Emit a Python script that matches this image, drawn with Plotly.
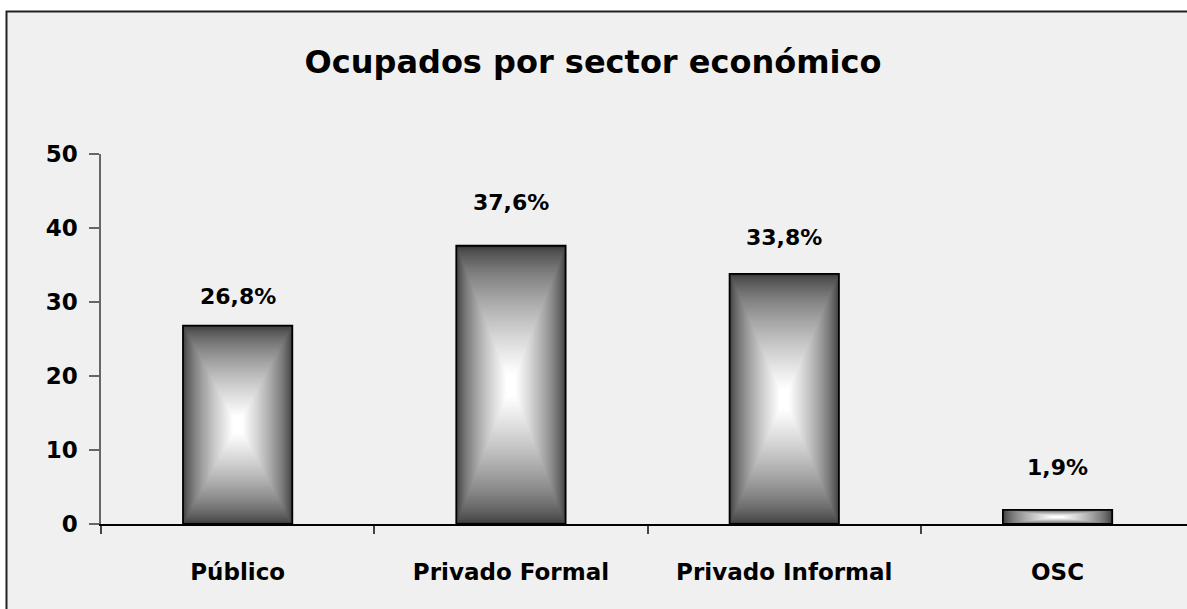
import plotly.graph_objects as go

# ─── Data ─────────────────────────────────────────────────────────────────────

CATEGORIES = ["Público", "Privado Formal", "Privado Informal", "OSC"]
VALUES = [26.8, 37.6, 33.8, 1.9]
Y_TICKS = [0, 10, 20, 30, 40, 50]

# ─── Style ────────────────────────────────────────────────────────────────────

PANEL_BG = "#f0f0f0"
EDGE_RGB = (58, 58, 58)
CENTER_RGB = (255, 255, 255)
FONT = "DejaVu Sans"
BAR_WIDTH = 0.4
STEPS = 70
LABEL_SHIFT = [15, 29, 22, 28]   # px above each bar, placed by hand in the original

W, H = 1187, 609
M_L, M_T = 101, 154
M_B = H - 524
PLOT_W = W - M_L
PLOT_H = H - M_T - M_B
CAT_PX = 273.3


def shade(t):
    # t = 0 at the bar edge, 1 at the centre
    t = min(1.0, t * 1.08) ** 0.68
    return "rgb({},{},{})".format(*[round(a + (b - a) * t) for a, b in zip(EDGE_RGB, CENTER_RGB)])


fig = go.Figure()

# rectangular "from centre" gradient built from nested bars
for k in range(STEPS):
    s = 1 - k / STEPS
    fig.add_trace(go.Bar(
        x=CATEGORIES,
        y=[v * s for v in VALUES],
        base=[v * (1 - s) / 2 for v in VALUES],
        width=BAR_WIDTH * s,
        marker=dict(color=shade(k / (STEPS - 1)), line=dict(width=0)),
        hoverinfo="skip",
    ))

# outline on top
fig.add_trace(go.Bar(
    x=CATEGORIES, y=VALUES, width=BAR_WIDTH,
    marker=dict(color="rgba(0,0,0,0)", line=dict(color="#000000", width=1.8)),
    hoverinfo="skip",
))

for cat, v, dy in zip(CATEGORIES, VALUES, LABEL_SHIFT):
    fig.add_annotation(
        x=cat, y=v, text=f"{v:.1f}%".replace(".", ","),
        showarrow=False, yanchor="bottom", yshift=dy,
        font=dict(family=FONT, size=22, color="#000000", weight="bold"),
    )

# outer chart frame (cropped at right/bottom like the reference)
fig.add_shape(
    type="rect", xref="paper", yref="paper", layer="below",
    x0=(6.5 - M_L) / PLOT_W, x1=(1240 - M_L) / PLOT_W,
    y0=(H - M_B - 680) / PLOT_H, y1=(H - M_B - 11.5) / PLOT_H,
    fillcolor=PANEL_BG, line=dict(color="#222222", width=2),
)

fig.update_layout(
    width=W, height=H,
    barmode="overlay", showlegend=False,
    paper_bgcolor="#ffffff", plot_bgcolor="rgba(0,0,0,0)",
    margin=dict(l=M_L, r=0, t=M_T, b=M_B, pad=0),
    font=dict(family=FONT, color="#000000"),
    title=dict(
        text="<b>Ocupados por sector económico</b>",
        x=593 / W, xref="container", xanchor="center",
        y=1 - 62 / H, yref="container", yanchor="middle",
        font=dict(family=FONT, size=32, color="#000000"),
    ),
    xaxis=dict(
        range=[-0.5, -0.5 + PLOT_W / CAT_PX],
        showgrid=False, zeroline=False,
        showline=True, linecolor="#000000", linewidth=1.5,
        ticks="outside", tickson="boundaries", ticklen=8, tickcolor="#444444", tickwidth=1.5,
        ticklabelstandoff=27,
        tickfont=dict(family=FONT, size=23, color="#000000", weight="bold"),
        fixedrange=True,
    ),
    yaxis=dict(
        range=[0, 50], tickvals=Y_TICKS,
        showgrid=False, zeroline=False,
        showline=True, linecolor="#666666", linewidth=1.5,
        ticks="outside", ticklen=10, tickcolor="#666666", tickwidth=1.5,
        ticklabelstandoff=7,
        tickfont=dict(family=FONT, size=23, color="#000000", weight="bold"),
        fixedrange=True,
    ),
)

# the page body has a default margin; drop it so the figure sits at the window corner
fig.write_html(
    "out.html",
    config={"displayModeBar": False},
    post_script="document.body.style.margin='0';",
)
